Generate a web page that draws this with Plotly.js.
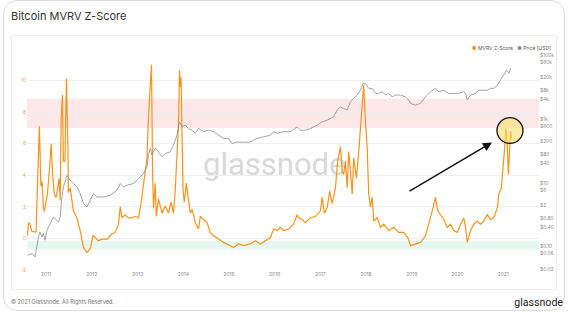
<!DOCTYPE html>
<html><head><meta charset="utf-8">
<script src="https://cdn.plot.ly/plotly-3.0.1.min.js"></script>
<style>
html,body{margin:0;padding:0;background:#fff;}
#wrap{position:relative;width:569px;height:312px;overflow:hidden;font-family:Inter,"Noto Sans",sans-serif;}
#card{position:absolute;left:3px;top:0px;width:562px;height:311px;border:1px solid #dedede;border-radius:14px;box-sizing:border-box;}
#panel{position:absolute;left:11px;top:35px;width:546px;height:255px;border:1px solid #ececec;box-sizing:border-box;}
#title{position:absolute;left:11px;top:10px;font-size:11px;line-height:13px;color:#333;white-space:nowrap;}
#wm{position:absolute;left:203px;top:149px;font-family:Roboto,sans-serif;font-size:31px;line-height:31px;color:#d9d9d9;white-space:nowrap;}
#foot{position:absolute;left:11px;top:298px;font-size:5.5px;line-height:8px;color:#777;white-space:nowrap;}
#logo{position:absolute;right:6px;top:297px;font-family:Roboto,sans-serif;font-size:10.6px;line-height:12px;color:#222;white-space:nowrap;}
#chart{position:absolute;left:0;top:0;width:569px;height:312px;}
</style>
</head><body>
<div id="wrap">
  <div id="card"></div>
  <div id="panel"></div>
  <div id="title">Bitcoin MVRV Z-Score</div>
  <div id="wm">glassnode</div>
  <div id="foot">© 2021 Glassnode. All Rights Reserved.</div>
  <div id="logo">glassnode</div>
  <div id="chart"></div>
</div>
<script>
// MVRV Z-Score series
const zDates = ['2010-08-04','2010-08-12','2010-08-20','2010-09-09','2010-10-05','2010-10-13','2010-10-19','2010-10-31','2010-11-08','2010-11-20','2010-11-30','2010-12-10','2010-12-18',
'2011-01-01','2011-01-11','2011-01-27','2011-02-10','2011-02-24','2011-03-08','2011-03-22','2011-04-01','2011-04-15','2011-04-23','2011-05-01','2011-05-11','2011-05-19','2011-05-31','2011-06-07','2011-06-12','2011-06-24','2011-06-28','2011-07-12','2011-07-26','2011-08-07','2011-09-04','2011-09-30','2011-10-26','2011-11-23','2011-12-19',
'2012-01-10','2012-01-28','2012-02-23','2012-03-22','2012-05-01','2012-06-10','2012-07-06','2012-08-01','2012-08-15','2012-08-29','2012-09-24','2012-10-20','2012-11-17','2012-12-13',
'2013-01-08','2013-01-28','2013-02-13','2013-03-03','2013-03-17','2013-03-29','2013-04-12','2013-04-22','2013-04-30','2013-05-08','2013-05-22','2013-05-30','2013-06-17','2013-07-15','2013-08-10','2013-09-05','2013-09-25','2013-10-15','2013-10-29','2013-11-12','2013-11-24','2013-12-02','2013-12-08','2013-12-14','2013-12-22','2013-12-30',
'2014-01-09','2014-01-25','2014-02-04','2014-02-26','2014-03-12','2014-04-07','2014-05-03','2014-05-17','2014-06-12','2014-07-10','2014-08-05','2014-08-31','2014-10-10','2014-11-19',
'2015-01-12','2015-02-07','2015-03-19','2015-04-28','2015-06-21','2015-07-31','2015-09-09','2015-10-19','2015-11-28','2015-12-24',
'2016-01-21','2016-02-16','2016-03-13','2016-04-22','2016-06-01','2016-06-29','2016-07-11','2016-08-08','2016-09-03','2016-10-13','2016-11-22',
'2017-01-01','2017-01-15','2017-02-02','2017-02-24','2017-03-16','2017-04-05','2017-05-01','2017-05-19','2017-06-10','2017-06-24','2017-07-06','2017-07-20','2017-08-03','2017-08-15','2017-08-29','2017-09-12','2017-09-24','2017-10-16','2017-11-03','2017-11-17','2017-12-01','2017-12-13','2017-12-27',
'2018-01-10','2018-01-22','2018-02-05','2018-02-19','2018-03-03','2018-03-31','2018-04-26','2018-05-22','2018-07-01','2018-08-10','2018-09-19','2018-10-29','2018-11-30','2018-12-22',
'2019-01-31','2019-03-12','2019-04-21','2019-05-17','2019-06-14','2019-07-10','2019-07-28','2019-08-19','2019-09-14','2019-10-12','2019-11-07','2019-12-03','2019-12-31',
'2020-01-26','2020-02-21','2020-03-06','2020-03-20','2020-04-15','2020-05-11','2020-06-08','2020-07-04','2020-07-30','2020-08-27','2020-09-22','2020-10-18','2020-11-15','2020-11-27','2020-12-17',
'2021-01-02','2021-01-12','2021-01-22','2021-02-03','2021-02-11','2021-02-19','2021-03-01','2021-03-09'];
const zValues = [0.17,0.9,1.0,0.45,0.4,0.45,2.2,4.7,7.1,3.3,3.6,2.0,1.7,
2.4,2.8,4.3,6.0,3.8,2.8,2.6,3.2,3.8,2.4,7.5,9.1,4.9,4.9,9.5,10.1,5.8,2.9,3.2,2.2,1.75,1.3,0.5,-0.57,-0.9,-0.67,
0.2,0.06,-0.15,-0.05,-0.05,0.28,0.38,0.9,2.0,1.3,1.5,1.3,1.3,1.4,
1.3,2.2,3.2,4.3,5.1,7.7,9.8,11.0,4.5,1.9,3.5,1.4,2.5,1.6,2.05,1.6,2.3,1.6,3.1,5.0,7.3,10.65,9.6,10.2,6.5,3.1,
2.3,3.5,2.9,1.6,1.85,1.0,0.6,1.4,1.2,1.0,0.38,0.17,-0.04,-0.25,
-0.46,-0.57,-0.35,-0.46,-0.35,-0.15,-0.35,-0.15,0.06,0.6,
0.5,0.7,0.5,0.6,0.9,1.5,1.3,1.2,1.0,1.3,1.4,
1.75,2.6,1.6,1.95,3.0,2.2,3.2,4.9,5.8,4.25,4.05,4.9,3.2,5.5,4.25,2.8,5.1,3.8,5.5,7.0,8.9,9.7,7.4,
5.7,2.8,2.0,2.6,1.1,1.3,0.7,0.9,0.5,0.7,0.38,0.38,0.06,-0.46,
-0.35,-0.25,0.17,0.9,1.75,2.6,1.75,1.5,1.2,0.7,0.9,0.5,0.38,
0.9,1.3,0.7,-0.25,0.5,0.9,1.1,0.9,1.1,1.5,1.2,1.3,1.95,2.8,3.2,
4.5,5.7,7.0,5.9,4.05,5.3,6.8,6.35];

// Price [USD] series
const priceDates = ['2010-08-04','2010-09-09','2010-10-05','2010-10-19','2010-10-31','2010-11-14','2010-11-28','2010-12-10','2010-12-24',
'2011-01-07','2011-02-02','2011-02-28','2011-04-09','2011-04-23','2011-05-07','2011-05-19','2011-06-16','2011-07-12','2011-08-07','2011-09-04','2011-09-30','2011-10-26','2011-11-23','2011-12-19',
'2012-01-14','2012-02-11','2012-04-03','2012-05-27','2012-07-20','2012-08-15','2012-09-10','2012-10-08','2012-11-29','2012-12-27',
'2013-01-22','2013-02-17','2013-03-17','2013-03-29','2013-04-12','2013-04-25','2013-05-22','2013-06-17','2013-07-15','2013-08-10','2013-09-19','2013-10-15','2013-11-12','2013-12-02','2013-12-22',
'2014-01-17','2014-02-12','2014-03-12','2014-04-07','2014-05-03','2014-06-12','2014-07-22','2014-08-31','2014-10-10','2014-11-19','2014-12-29',
'2015-01-26','2015-03-07','2015-04-28','2015-06-21','2015-07-31','2015-08-14','2015-10-05','2015-11-28','2015-12-24',
'2016-01-21','2016-03-13','2016-05-06','2016-06-29','2016-07-25','2016-09-03','2016-10-13','2016-12-06',
'2017-01-15','2017-02-24','2017-03-22','2017-04-17','2017-05-15','2017-06-10','2017-07-06','2017-08-03','2017-08-29','2017-09-24','2017-10-22','2017-11-17','2017-12-09','2017-12-27',
'2018-01-22','2018-02-19','2018-03-17','2018-04-12','2018-05-10','2018-06-05','2018-07-01','2018-07-29','2018-08-24','2018-10-03','2018-11-12','2018-12-08','2018-12-22',
'2019-01-31','2019-03-12','2019-04-21','2019-05-31','2019-07-10','2019-08-05','2019-09-14','2019-10-24','2019-12-03',
'2020-01-12','2020-02-21','2020-03-06','2020-03-20','2020-04-15','2020-05-25','2020-06-20','2020-07-18','2020-08-27','2020-09-22','2020-10-18','2020-11-15','2020-12-11',
'2021-01-06','2021-01-28','2021-02-15','2021-03-01'];
const priceValues = [0.054,0.060,0.048,0.097,0.20,0.29,0.20,0.26,0.16,
0.32,0.52,0.85,0.59,0.85,3.6,7.4,17,12,9.5,7.4,4.6,2.24,1.74,2.8,
4.6,3.6,3.6,4.1,5.9,9.5,7.4,8.4,9.5,12,
15.5,19.5,32,74,120,74,120,93,65,83,93,150,310,810,565,
640,500,445,355,500,400,445,400,310,245,245,
170,190,185,190,220,245,275,310,400,
355,400,400,565,445,445,500,640,
810,910,1050,1180,1900,2400,2140,1900,3470,4370,5600,7900,12900,12900,
9100,9000,6300,6300,7100,5600,6300,4900,5600,5600,4900,3900,3080,
2700,3080,4900,7100,9100,7100,7900,6300,6300,
6300,7100,6300,3900,5600,6300,7900,7900,7900,9100,9100,11500,16500,
23500,33800,26700,38400];

// Axis ticks
const zTicks = [-2,0,2,4,6,8,10,12];
const zTickText = ['-2','0','2','4','6','8','10',''];
const priceTicks = [0.02,0.06,0.1,0.4,0.8,2,6,10,40,80,200,600,1000,4000,8000,20000,60000,100000];
const priceTickText = ['$0.02','$0.06','$0.10','$0.40','$0.80','$2','$6','$10','$40','$80','$200','$600','$1k','$4k','$8k','$20k','$60k','$100k'];

// Reference bands (z-score units)
const redBand = [7, 8.85];
const greenBand = [-0.7, -0.15];

const ORANGE = '#f7931a';
const GREY = '#8c8c8c';

const traces = [
  {x: priceDates, y: priceValues, yaxis: 'y2', type: 'scatter', mode: 'lines', name: 'Price [USD]',
   line: {color: GREY, width: 0.8}, hoverinfo: 'skip'},
  {x: zDates, y: zValues, yaxis: 'y', type: 'scatter', mode: 'lines', name: 'MVRV Z-Score',
   line: {color: ORANGE, width: 1.2}, hoverinfo: 'skip'}
];

const tickFont = {family: 'Inter, "Noto Sans", sans-serif', size: 4.9, color: '#8a8a8a'};

const layout = {
  width: 569, height: 312,
  margin: {l: 27, r: 30, t: 49, b: 42, pad: 0},
  paper_bgcolor: 'rgba(0,0,0,0)', plot_bgcolor: 'rgba(0,0,0,0)',
  showlegend: false,
  xaxis: {type: 'date', range: ['2010-08-01', '2021-10-14'], dtick: 'M12', tick0: '2011-01-01',
    tickformat: '%Y', showgrid: false, zeroline: false, showline: false, ticks: '',
    tickfont: tickFont, fixedrange: true},
  yaxis: {range: [-2, 12], tickvals: zTicks, ticktext: zTickText, showgrid: true, gridcolor: '#eeeeee',
    gridwidth: 1, zeroline: false, showline: false, ticks: '',
    tickfont: {family: tickFont.family, size: 4.9, color: '#d6a266'}, fixedrange: true},
  yaxis2: {type: 'log', overlaying: 'y', side: 'right', range: [-1.73, 5.19], tickvals: priceTicks,
    ticktext: priceTickText, showgrid: false, zeroline: false, showline: false, ticks: '',
    tickfont: tickFont, fixedrange: true},
  shapes: [
    {type: 'rect', layer: 'below', xref: 'paper', yref: 'y', x0: 0, x1: 1, y0: redBand[0], y1: redBand[1],
     fillcolor: 'rgba(240,150,150,0.22)', line: {width: 0}},
    {type: 'rect', layer: 'below', xref: 'paper', yref: 'y', x0: 0, x1: 1, y0: greenBand[0], y1: greenBand[1],
     fillcolor: 'rgba(120,210,170,0.18)', line: {width: 0}},
    {type: 'circle', layer: 'above', xref: 'x', yref: 'y', x0: '2020-11-12', x1: '2021-06-08', y0: 6.02, y1: 7.65,
     fillcolor: 'rgba(248,222,110,0.6)', line: {color: '#111', width: 1.3}}
  ],
  annotations: [
    {xref: 'paper', yref: 'paper', x: 1.027, y: 1.005, xanchor: 'right', yanchor: 'middle', showarrow: false,
     text: '<span style="color:#f7931a">●</span> MVRV Z-Score   <span style="color:#8c8c8c">●</span> Price [USD]',
     font: {family: tickFont.family, size: 5, color: '#555'}},
    {xref: 'x', yref: 'y', axref: 'x', ayref: 'y', x: '2020-10-03', y: 6.08, ax: '2018-12-02', ay: 2.94,
     text: '', showarrow: true, arrowhead: 2, arrowsize: 1.2, arrowwidth: 1.5, arrowcolor: '#111'}
  ]
};

Plotly.newPlot('chart', traces, layout, {staticPlot: true, displayModeBar: false});
</script>
</body></html>
